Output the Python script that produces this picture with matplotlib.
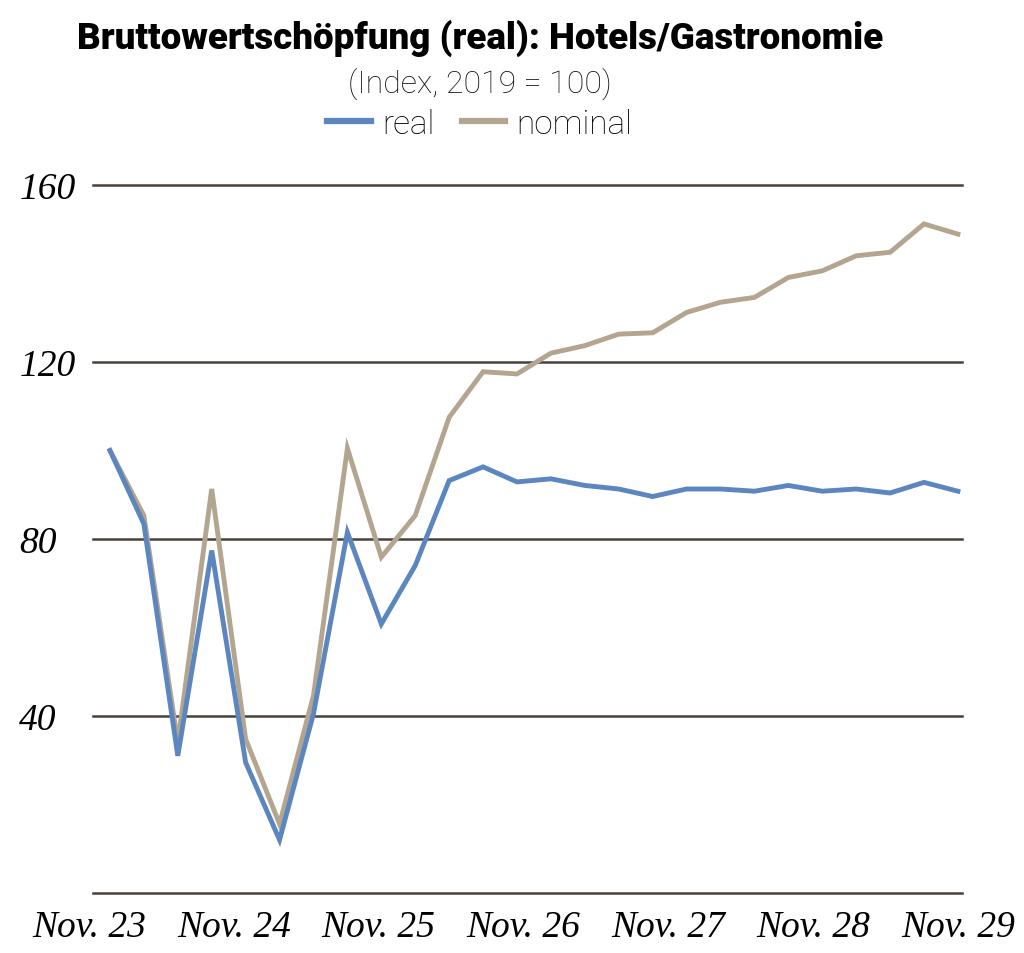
import matplotlib
matplotlib.use("Agg")
import matplotlib.pyplot as plt
import matplotlib.transforms as mtransforms
from matplotlib.lines import Line2D
import numpy as np

# ---- data (quarterly, index 2019 = 100) ----
real = [100, 83.4, 31.0, 77.4, 29.5, 12.0, 40.5, 81.5, 60.8, 74.0,
        93.2, 96.3, 92.9, 93.6, 92.1, 91.3, 89.6, 91.3, 91.3, 90.8,
        92.1, 90.8, 91.3, 90.4, 92.8, 90.8]
nominal = [100, 85.3, 34.0, 91.3, 34.8, 15.6, 44.6, 100.5, 75.9, 85.3,
           107.5, 117.8, 117.3, 122.0, 123.7, 126.3, 126.6, 131.2, 133.5, 134.6,
           139.1, 140.6, 144.0, 144.8, 151.2, 148.9]
x_labels = ["Nov. 23", "Nov. 24", "Nov. 25", "Nov. 26", "Nov. 27", "Nov. 28", "Nov. 29"]
y_ticks = [40, 80, 120, 160]
series_names = ["real", "nominal"]

title = "Bruttowertschöpfung (real): Hotels/Gastronomie"
subtitle = "(Index, 2019 = 100)"

c_real = "#5b86bf"
c_nom = "#b3a58f"
c_grid = "#4a4039"

sans = ["Roboto", "DejaVu Sans"]
serif = ["Liberation Serif", "DejaVu Serif"]

fig = plt.figure(figsize=(10.24, 9.54), dpi=100)
ax = fig.add_axes([93 / 1024, 1 - 894 / 954, (962 - 93) / 1024, (894 - 186) / 954])

x = np.arange(len(real))
ax.plot(x, real, color=c_real, lw=3.5, solid_joinstyle="miter", zorder=3)
ax.plot(x, nominal, color=c_nom, lw=3.5, solid_joinstyle="miter", zorder=2)

ax.set_xlim(-0.5, 25.12)
ax.set_ylim(0, 160)

for v in [0] + y_ticks:
    ax.axhline(v, color=c_grid, lw=1.8, zorder=1, clip_on=False)

for s in ax.spines.values():
    s.set_visible(False)
ax.set_xticks([])
ax.set_yticks(y_ticks)
ax.set_yticklabels([str(v) for v in y_ticks], family=serif, style="italic", fontsize=27)
ax.tick_params(axis="y", length=0, pad=53)
for lab in ax.get_yticklabels():
    lab.set_horizontalalignment("left")

# x labels (evenly spaced, centred under year marks)
xpos = np.linspace(-0.62, 25.0, len(x_labels))
trans = mtransforms.blended_transform_factory(ax.transData, fig.transFigure)
for xp, lab in zip(xpos, x_labels):
    ax.text(xp, 1 - 928 / 954, lab, transform=trans, ha="center", va="center",
            family=serif, style="italic", fontsize=27, clip_on=False)

# title & subtitle
cx = 480 / 1024
t = fig.text(cx, 1 - 38 / 954, title, ha="center", va="center",
             family=sans, weight="heavy", fontsize=28)
fig.canvas.draw()
w = t.get_window_extent().width
t.set_fontsize(28 * 806 / w)
fig.text(cx, 1 - 84 / 954, subtitle, ha="center", va="center",
         family=sans, weight="light", fontsize=23, color="#111111")

handles = [Line2D([], [], color=c_real, lw=4.5), Line2D([], [], color=c_nom, lw=4.5)]
leg = fig.legend(handles, series_names, loc="center", bbox_to_anchor=(cx, 1 - 125 / 954),
                 ncol=2, frameon=False, prop={"family": sans, "size": 24, "weight": "light"},
                 handlelength=1.3, handletextpad=0.35, columnspacing=0.8)

fig.savefig("out.png", dpi=100)
